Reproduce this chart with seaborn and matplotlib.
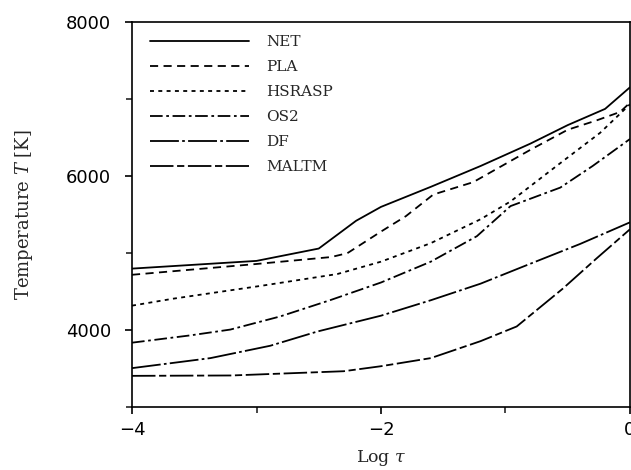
import numpy as np
import pandas as pd
import matplotlib
matplotlib.use("Agg")
import matplotlib.pyplot as plt
import seaborn as sns
from matplotlib.ticker import MultipleLocator

# ── Data ────────────────────────────────────────────────────────────────────
models = ["NET", "PLA", "HSRASP", "OS2", "DF", "MALTM"]

net_x = [-4.0, -3.5, -3.0, -2.5, -2.2, -2.0, -1.6, -1.2, -0.8, -0.5, -0.2, 0.0]
net_t = [4800, 4850, 4900, 5060, 5420, 5600, 5860, 6130, 6420, 6660, 6870, 7150]

pla_x = [-4.0, -3.5, -3.0, -2.4, -2.27, -2.0, -1.8, -1.58, -1.26, -0.8, -0.5, -0.27, -0.08, 0.0]
pla_t = [4720, 4790, 4860, 4950, 5000, 5280, 5480, 5760, 5920, 6340, 6600, 6720, 6830, 6950]

hsr_x = [-4.0, -3.67, -2.95, -2.35, -2.0, -1.6, -1.2, -0.96, -0.59, -0.24, 0.0]
hsr_t = [4320, 4410, 4580, 4730, 4890, 5130, 5440, 5670, 6130, 6560, 6930]

os2_x = [-4.0, -3.53, -3.21, -2.81, -2.41, -2.0, -1.6, -1.23, -0.96, -0.56, -0.3, 0.0]
os2_t = [3840, 3935, 4010, 4180, 4390, 4620, 4890, 5220, 5610, 5850, 6130, 6480]

df_x = [-4.0, -3.37, -2.89, -2.51, -2.0, -1.6, -1.2, -0.86, -0.4, 0.0]
df_t = [3510, 3640, 3800, 3985, 4190, 4390, 4605, 4825, 5120, 5400]

mal_x = [-4.0, -3.2, -2.3, -2.0, -1.6, -1.2, -0.91, -0.54, -0.27, 0.0]
mal_t = [3410, 3415, 3470, 3535, 3640, 3860, 4050, 4540, 4930, 5310]

series = {
    "NET": (net_x, net_t),
    "PLA": (pla_x, pla_t),
    "HSRASP": (hsr_x, hsr_t),
    "OS2": (os2_x, os2_t),
    "DF": (df_x, df_t),
    "MALTM": (mal_x, mal_t),
}
data = pd.concat(
    [pd.DataFrame({"logtau": x, "T": t, "model": name}) for name, (x, t) in series.items()],
    ignore_index=True,
)

dashes = {
    "NET": "",
    "PLA": (4.5, 3.0),
    "HSRASP": (2.2, 2.4),
    "OS2": (7, 2, 1.5, 2),
    "DF": (16, 1.8, 1.5, 1.8),
    "MALTM": (13, 2, 4, 2),
}

# ── Style ────────────────────────────────────────────────────────────────────
sns.set_theme(style="ticks")
plt.rcParams["font.family"] = ["DejaVu Sans"]
plt.rcParams["mathtext.fontset"] = "dejavuserif"

fig = plt.figure(figsize=(6.31, 4.70), dpi=100)
ax = fig.add_axes([0.2092, 0.133, 0.7892, 0.8208])

sns.lineplot(data=data, x="logtau", y="T", hue="model", style="model",
             hue_order=models, style_order=models,
             palette=["black"] * 6, dashes=dashes, linewidth=1.3,
             sort=False, estimator=None, ax=ax)

ax.set_xlim(-4, 0)
ax.set_ylim(3000, 8000)
ax.xaxis.set_minor_locator(MultipleLocator(1))
ax.yaxis.set_minor_locator(MultipleLocator(1000))
ax.set_yticks([4000, 6000, 8000])
ax.set_xticks([-4, -2, 0])
ax.set_xticklabels(["\u22124", "\u22122", "0"])

for s in ax.spines.values():
    s.set_linewidth(1.2)
    s.set_color("black")
ax.tick_params(which="major", direction="out", length=5, width=1.2,
               labelsize=13, colors="black", pad=10)
ax.tick_params(axis="x", which="major", pad=5)
ax.tick_params(which="minor", direction="out", length=4, width=1.2)

serif = ["DejaVu Serif"]
ax.set_xlabel(r"Log $\tau$", family=serif, fontsize=12.5, labelpad=6)
ax.set_ylabel(r"Temperature $T$ [K]", family=serif, fontsize=13, labelpad=22)

leg = ax.legend(loc="upper left", bbox_to_anchor=(0.036, 0.965), frameon=False,
                borderpad=0, borderaxespad=0, handlelength=6.5, handletextpad=1.1,
                labelspacing=0.72, prop={"family": serif, "size": 11})

fig.savefig("out.png", dpi=100)
